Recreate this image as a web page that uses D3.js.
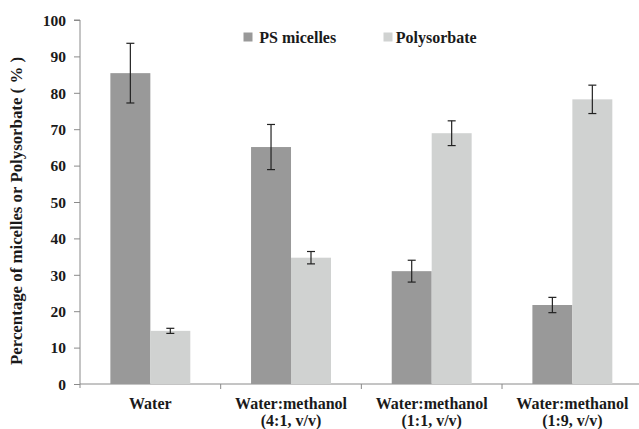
<!DOCTYPE html>
<html>
<head>
<meta charset="utf-8">
<script src="https://cdn.jsdelivr.net/npm/d3@7"></script>
<style>
  html, body { margin: 0; padding: 0; background: #fff; }
  svg { display: block; }
  svg text {
    font-family: "Liberation Serif", "Times New Roman", Tinos !important;
    font-weight: bold !important;
    fill: #1a1a1a;
  }
</style>
</head>
<body>
<svg id="chart" width="639" height="429"></svg>
<script>
// Solvent conditions (two-line labels where needed)
const categories = [
  ["Water"],
  ["Water:methanol", "(4:1, v/v)"],
  ["Water:methanol", "(1:1, v/v)"],
  ["Water:methanol", "(1:9, v/v)"]
];
const seriesNames = ["PS micelles", "Polysorbate"];
const psMicelles = [85.4, 65.1, 31.0, 21.7];
const psMicellesErr = [8.2, 6.2, 3.0, 2.1];
const polysorbate = [14.6, 34.7, 68.9, 78.2];
const polysorbateErr = [0.7, 1.7, 3.4, 3.9];
const yTicks = [0, 10, 20, 30, 40, 50, 60, 70, 80, 90, 100];

const colors = ["#999999", "#d0d2d1"];
const svg = d3.select("#chart");
const plotLeft = 80, plotRight = 642.7, plotTop = 20, plotBottom = 384;

const x0 = d3.scaleBand().domain(d3.range(categories.length)).range([plotLeft, plotRight]).paddingInner(0).paddingOuter(0);
const x1 = d3.scaleBand().domain([0, 1]).range([0, x0.bandwidth()]).paddingOuter(0.76).paddingInner(0);
const y = d3.scaleLinear().domain([0, 100]).range([plotBottom, plotTop]);

// y axis
const yAxis = d3.axisLeft(y).tickValues(yTicks).tickSize(6).tickPadding(8).tickFormat(d3.format("d"));
const gy = svg.append("g").attr("transform", `translate(${plotLeft},0)`).call(yAxis);
gy.attr("font-family", null).attr("font-size", null);
gy.select(".domain").attr("stroke", "#8a8a8a").attr("d", `M-6,${plotTop}H0V${plotBottom + 4}`);
gy.selectAll(".tick line").attr("stroke", "#8a8a8a");
gy.selectAll(".tick text").attr("fill", "#1a1a1a").style("font-size", "15.5px").attr("dy", "0.34em");

// x axis baseline with category separators
const gx = svg.append("g");
gx.append("line").attr("x1", plotLeft).attr("x2", 639).attr("y1", plotBottom).attr("y2", plotBottom).attr("stroke", "#8a8a8a");
d3.range(1, categories.length).forEach(i => {
  const xx = x0(i);
  gx.append("line").attr("x1", xx).attr("x2", xx).attr("y1", plotBottom).attr("y2", plotBottom + 5).attr("stroke", "#8a8a8a");
});

// bars
const series = [psMicelles, polysorbate];
const errs = [psMicellesErr, polysorbateErr];
series.forEach((vals, s) => {
  svg.append("g").selectAll("rect").data(vals).join("rect")
    .attr("x", (d, i) => x0(i) + x1(s))
    .attr("y", d => y(d))
    .attr("width", x1.bandwidth())
    .attr("height", d => y(0) - y(d))
    .attr("fill", colors[s]);
});

// error bars
series.forEach((vals, s) => {
  const g = svg.append("g").attr("stroke", "#222").attr("stroke-width", 1.2);
  vals.forEach((v, i) => {
    const cx = x0(i) + x1(s) + x1.bandwidth() / 2;
    const hi = y(v + errs[s][i]), lo = y(v - errs[s][i]);
    g.append("line").attr("x1", cx).attr("x2", cx).attr("y1", hi).attr("y2", lo);
    g.append("line").attr("x1", cx - 4).attr("x2", cx + 4).attr("y1", hi).attr("y2", hi);
    g.append("line").attr("x1", cx - 4).attr("x2", cx + 4).attr("y1", lo).attr("y2", lo);
  });
});

// category labels
categories.forEach((lines, i) => {
  const cx = x0(i) + x0.bandwidth() / 2;
  const t = svg.append("text").attr("text-anchor", "middle").style("font-size", "16px");
  lines.forEach((ln, k) => {
    t.append("tspan").attr("x", cx).attr("y", 408.5 + k * 17).text(ln);
  });
});

// y-axis title, fitted to the axis span
svg.append("text")
  .style("font-size", "16px")
  .attr("transform", "translate(22,211) rotate(-90)")
  .attr("text-anchor", "middle")
  .attr("textLength", 308).attr("lengthAdjust", "spacingAndGlyphs")
  .text("Percentage of micelles or Polysorbate ( % )");

// legend
const legendX = [243.5, 383.5];
const legendTextX = [259.3, 395.7];
seriesNames.forEach((name, s) => {
  svg.append("rect").attr("x", legendX[s]).attr("y", 32.5).attr("width", 9).attr("height", 9).attr("fill", colors[s]);
  svg.append("text").style("font-size", "16px").attr("x", legendTextX[s]).attr("y", 42.5).text(name);
});
</script>
</body>
</html>
